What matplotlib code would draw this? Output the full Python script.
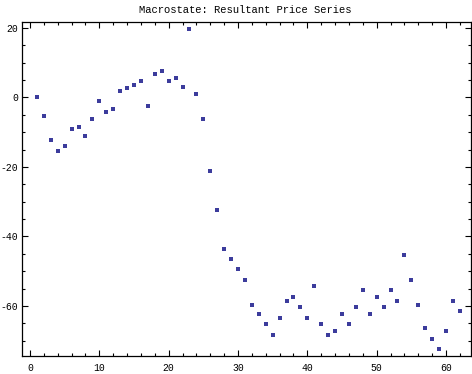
import matplotlib
matplotlib.use("Agg")
import matplotlib.pyplot as plt
from matplotlib.ticker import MultipleLocator

t = list(range(1, 63))
price = [0, -5.3, -12.2, -15.5, -14.0, -9.2, -8.4, -11.2, -6.3, -1.1,
         -4.3, -3.4, 1.8, 2.8, 3.7, 4.8, -2.4, 6.6, 7.7, 4.8,
         5.6, 2.9, 19.7, 0.9, -6.2, -21.3, -32.5, -43.5, -46.4, -49.3,
         -52.4, -59.6, -62.4, -65.3, -68.3, -63.4, -58.5, -57.5, -60.4, -63.4,
         -54.3, -65.3, -68.3, -67.3, -62.4, -65.3, -60.4, -55.5, -62.4, -57.5,
         -60.4, -55.5, -58.5, -45.4, -52.4, -59.6, -66.3, -69.6, -72.5, -67.3,
         -58.5, -61.4]
title = "Macrostate: Resultant Price Series"

plt.rcParams["axes.unicode_minus"] = False
fig = plt.figure(figsize=(4.72, 3.74), dpi=100)
ax = fig.add_axes([22/472, 1 - 356/374, (471 - 22)/472, (356 - 22)/374])
ax.plot(t, price, linestyle="none", marker="s", markersize=2.2,
        color="#3c3c9c", markeredgewidth=0)
ax.set_xlim(-1.15, 63.6)
ax.set_ylim(-74.4, 21.7)
ax.xaxis.set_major_locator(MultipleLocator(10))
ax.xaxis.set_minor_locator(MultipleLocator(2))
ax.yaxis.set_major_locator(MultipleLocator(20))
ax.yaxis.set_minor_locator(MultipleLocator(5))
ax.tick_params(which="both", direction="in", top=True, right=True,
               width=0.8, labelsize=7)
ax.tick_params(axis="x", pad=5)
ax.tick_params(axis="y", pad=3)
ax.tick_params(which="major", length=4)
ax.tick_params(which="minor", length=2.5)
for lab in ax.get_xticklabels() + ax.get_yticklabels():
    lab.set_family("Liberation Mono")
for s in ax.spines.values():
    s.set_linewidth(0.9)
fig.text(0.52, 1 - 10/374, title, ha="center", va="center",
         family="Liberation Mono", fontsize=7.6)
fig.savefig("out.png", dpi=100)
